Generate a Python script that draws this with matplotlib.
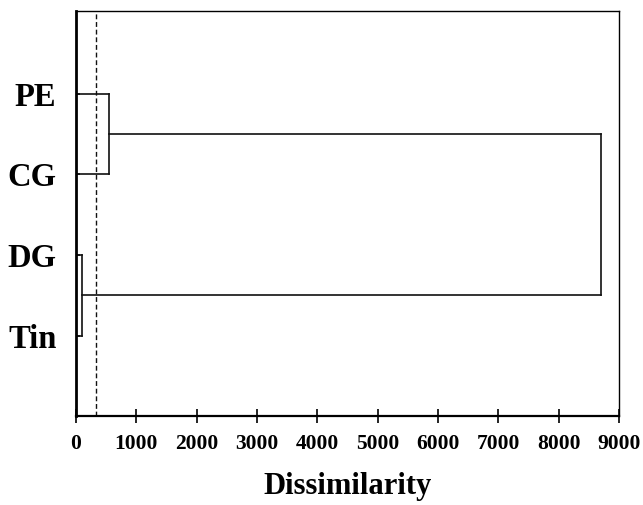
import matplotlib.pyplot as plt

# dendrogram data
leaves = ["PE", "CG", "DG", "Tin"]
leaf_pos = [4, 3, 2, 1]
# clusters joined: (left, right, height); ids 0-3 are leaves, 4+ are merges
merges = [(0, 1, 547), (2, 3, 105), (4, 5, 8700)]
cutoff = 330
xticks = [0, 1000, 2000, 3000, 4000, 5000, 6000, 7000, 8000, 9000]

plt.rcParams["font.family"] = ["Liberation Serif", "DejaVu Serif"]
plt.rcParams["font.weight"] = "bold"

fig = plt.figure(figsize=(6.43, 5.05), dpi=100)
ax = fig.add_axes([0.1182, 0.1762, 0.8445, 0.802])

# node position (y) and height (x) for every cluster
ypos = list(leaf_pos)
height = [0] * len(leaves)
for a, b, h in merges:
    for c in (a, b):
        ax.plot([height[c], h], [ypos[c], ypos[c]], color="#111111", lw=1.2)
    ax.plot([h, h], [ypos[a], ypos[b]], color="#111111", lw=1.2)
    ypos.append((ypos[a] + ypos[b]) / 2)
    height.append(h)

ax.axvline(cutoff, color="#111111", lw=1.0, ls=(0, (3.5, 2)))

ax.set_xlim(0, 9000)
ax.set_ylim(0, 5.03)
ax.set_xticks(xticks)
ax.set_xticklabels([str(t) for t in xticks], fontsize=15.5, fontweight="bold")
ax.set_yticks(leaf_pos)
ax.set_yticklabels(leaves, fontsize=23.5, fontweight="bold")
ax.tick_params(axis="x", direction="inout", length=10, width=1.2, pad=8)
ax.tick_params(axis="y", direction="in", length=3, width=1.2, pad=14)
ax.set_xlabel("Dissimilarity", fontsize=22, fontweight="bold", labelpad=13)

ax.spines["left"].set_linewidth(2.0)
ax.spines["bottom"].set_linewidth(1.6)
ax.spines["top"].set_linewidth(1.0)
ax.spines["right"].set_linewidth(1.0)

fig.savefig("out.png", dpi=100)
